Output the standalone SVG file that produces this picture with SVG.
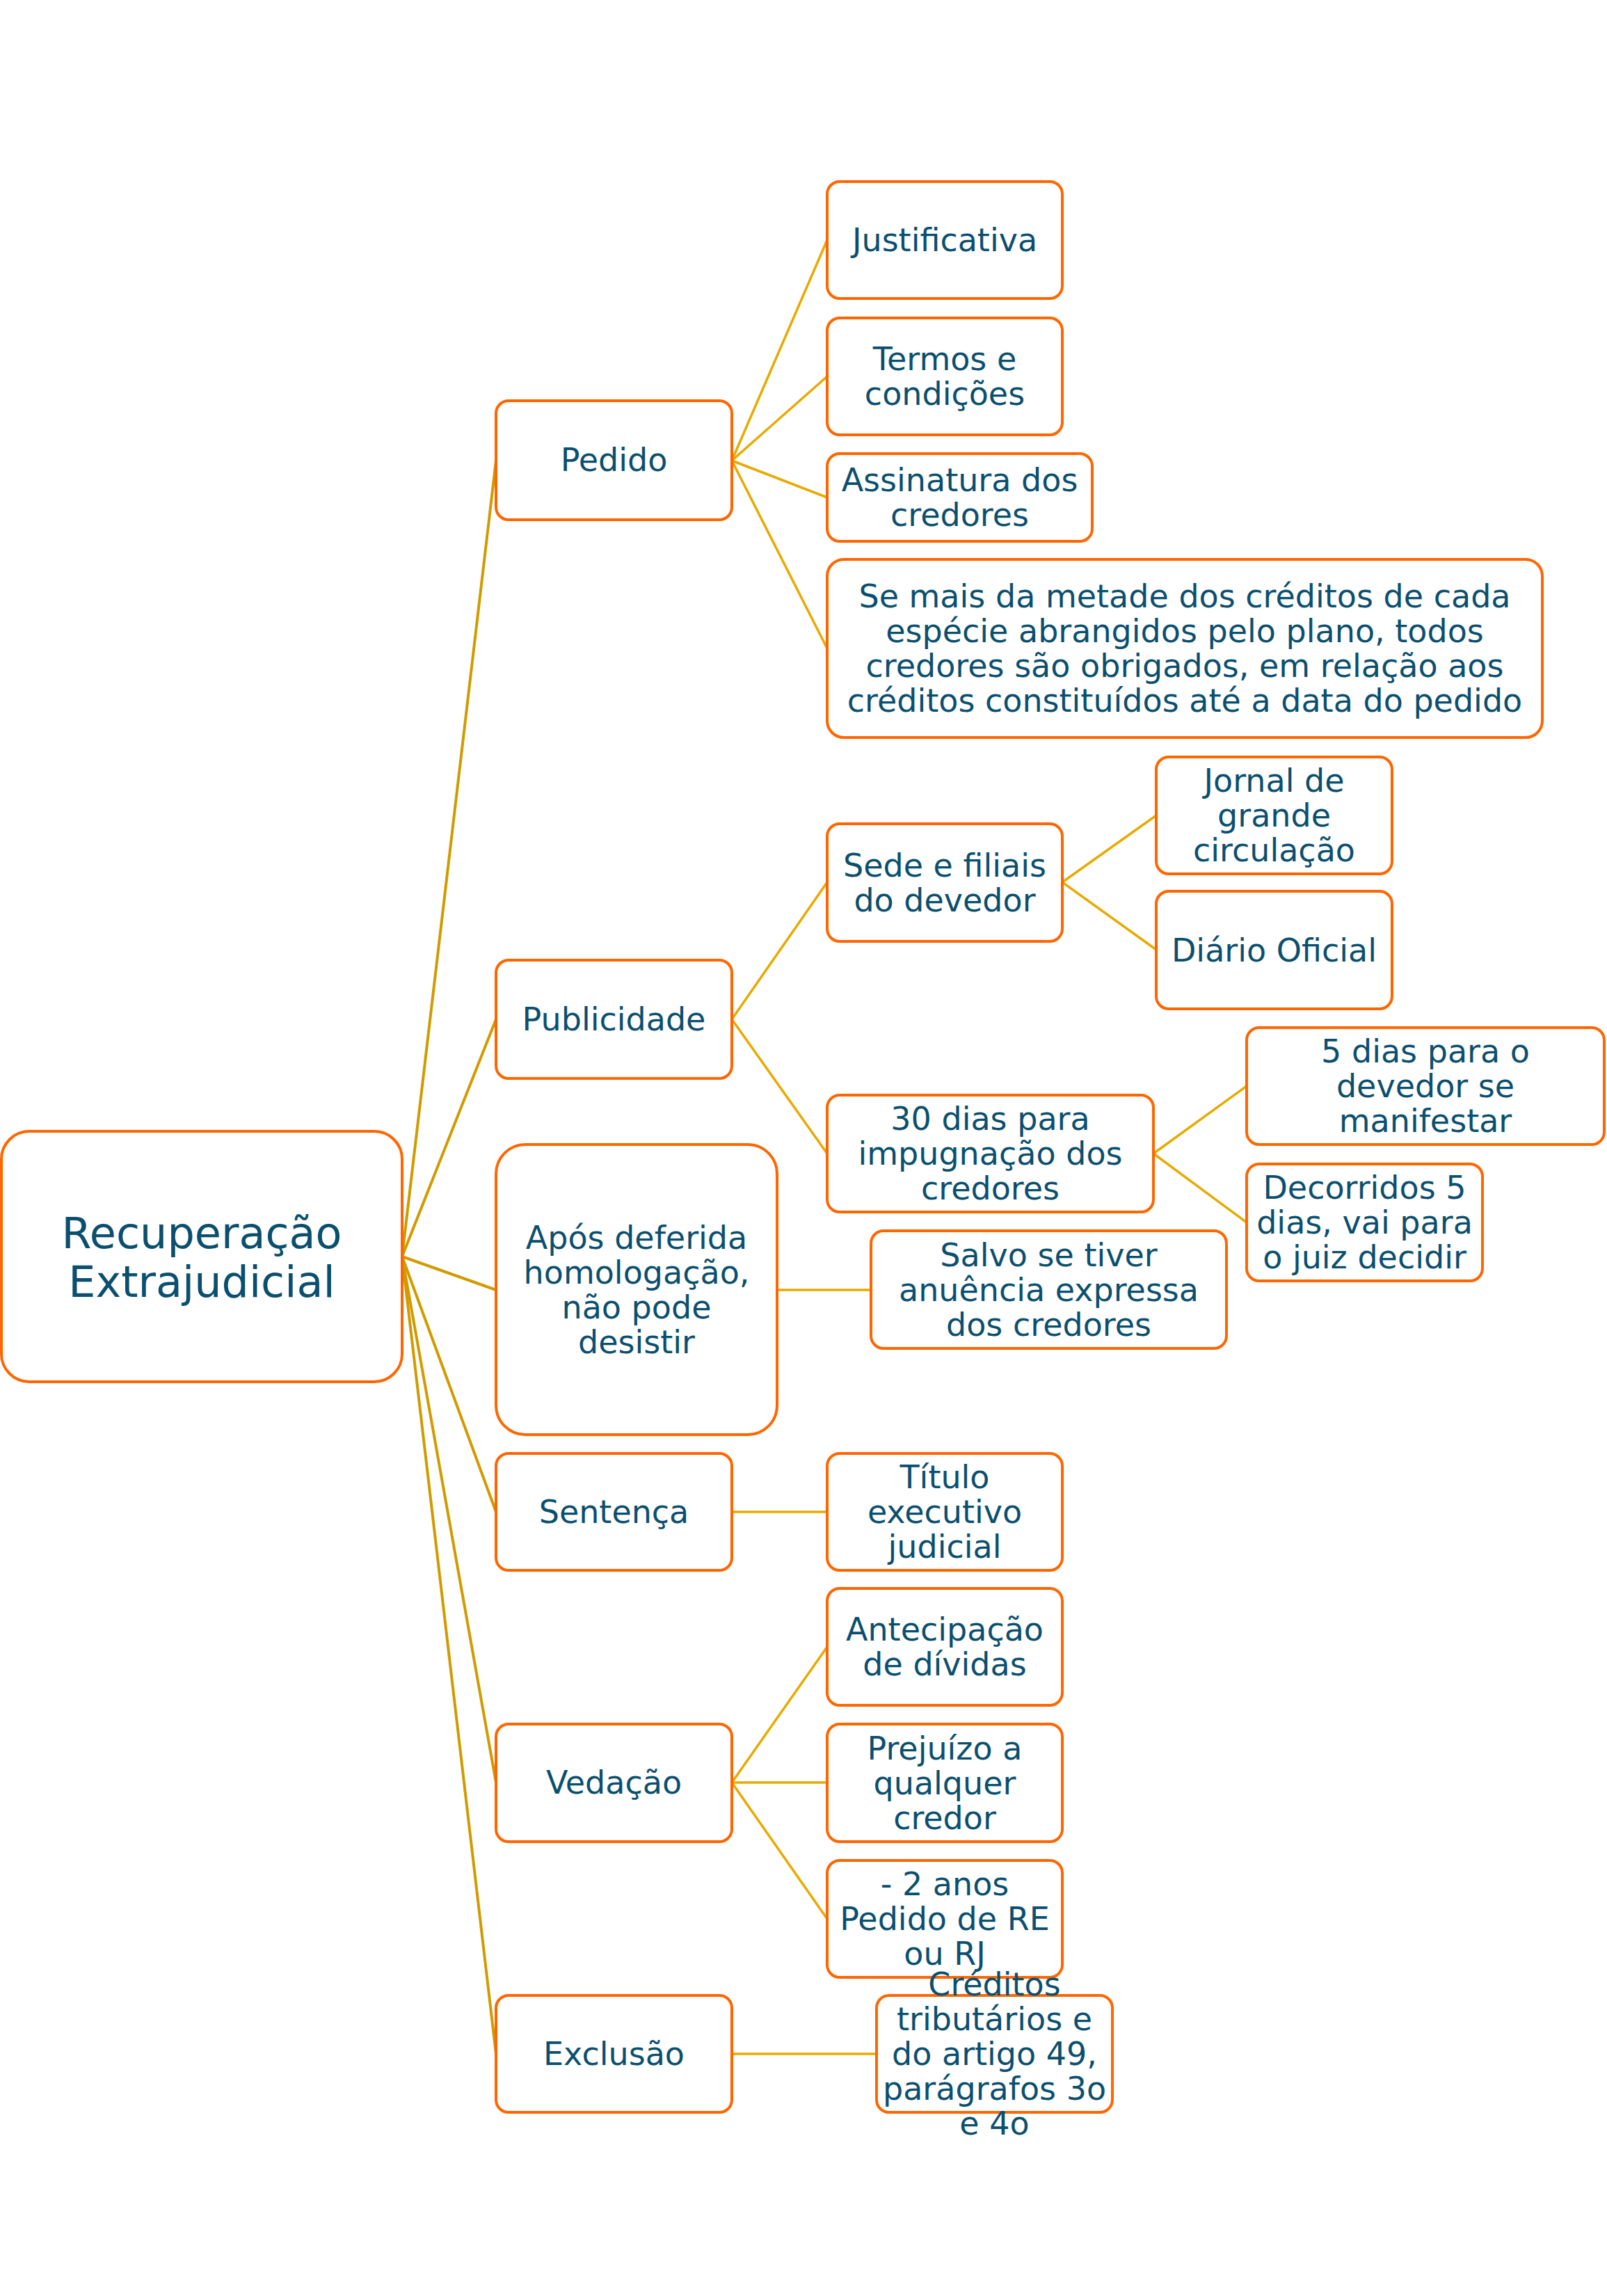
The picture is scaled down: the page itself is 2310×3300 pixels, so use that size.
<svg xmlns="http://www.w3.org/2000/svg" width="2310" height="3300" viewBox="0 0 2310 3300">
  <style>
    .box { fill: #ffffff; stroke: #ff6600; stroke-width: 4; }
    .lbl { font-family: "DejaVu Sans", Verdana, sans-serif; font-size: 46px; fill: #0b4f6f; text-anchor: middle; }
    .root-lbl { font-size: 62px; }
    .trunk { stroke: #d19b00; stroke-width: 4; fill: none; }
    .branch { stroke: #e8aa00; stroke-width: 3.5; fill: none; }
  </style>
  <rect width="2310" height="3300" fill="#ffffff"/>

  <!-- connectors -->
  <g id="connectors">
    <line class="trunk" x1="578" y1="1806" x2="713" y2="662"/>
    <line class="trunk" x1="578" y1="1806" x2="713" y2="1465"/>
    <line class="trunk" x1="578" y1="1806" x2="713" y2="1854"/>
    <line class="trunk" x1="578" y1="1806" x2="713" y2="2173"/>
    <line class="trunk" x1="578" y1="1806" x2="713" y2="2562"/>
    <line class="trunk" x1="578" y1="1806" x2="713" y2="2952"/>

    <line class="branch" x1="1052" y1="662" x2="1189" y2="345"/>
    <line class="branch" x1="1052" y1="662" x2="1189" y2="541"/>
    <line class="branch" x1="1052" y1="662" x2="1189" y2="715"/>
    <line class="branch" x1="1052" y1="662" x2="1189" y2="932"/>

    <line class="branch" x1="1052" y1="1465" x2="1189" y2="1268"/>
    <line class="branch" x1="1052" y1="1465" x2="1189" y2="1658"/>
    <line class="branch" x1="1527" y1="1268" x2="1662" y2="1172"/>
    <line class="branch" x1="1527" y1="1268" x2="1662" y2="1365"/>
    <line class="branch" x1="1658" y1="1658" x2="1792" y2="1561"/>
    <line class="branch" x1="1658" y1="1658" x2="1792" y2="1757"/>

    <line class="branch" x1="1117" y1="1854" x2="1252" y2="1854"/>
    <line class="branch" x1="1052" y1="2173" x2="1189" y2="2173"/>

    <line class="branch" x1="1052" y1="2562" x2="1189" y2="2367"/>
    <line class="branch" x1="1052" y1="2562" x2="1189" y2="2562"/>
    <line class="branch" x1="1052" y1="2562" x2="1189" y2="2758"/>

    <line class="branch" x1="1052" y1="2952" x2="1260" y2="2952"/>
  </g>

  <!-- central topic -->
  <g id="root">
    <rect class="box" x="2" y="1626" width="576" height="360" rx="40"/>
    <text class="lbl root-lbl"><tspan x="290" y="1794">Recuperação</tspan><tspan x="290" y="1864">Extrajudicial</tspan></text>
  </g>

  <!-- main branches -->
  <g id="pedido">
    <rect class="box" x="713" y="576" width="339" height="171" rx="18"/>
    <text class="lbl" x="882.5" y="677">Pedido</text>
  </g>
  <g id="publicidade">
    <rect class="box" x="713" y="1380" width="339" height="170" rx="18"/>
    <text class="lbl" x="882.5" y="1481">Publicidade</text>
  </g>
  <g id="apos-deferida">
    <rect class="box" x="713" y="1645" width="404" height="417" rx="42"/>
    <text class="lbl"><tspan x="915" y="1795">Após deferida</tspan><tspan x="915" y="1845">homologação,</tspan><tspan x="915" y="1895">não pode</tspan><tspan x="915" y="1945">desistir</tspan></text>
  </g>
  <g id="sentenca">
    <rect class="box" x="713" y="2089" width="339" height="168" rx="18"/>
    <text class="lbl" x="882.5" y="2189">Sentença</text>
  </g>
  <g id="vedacao">
    <rect class="box" x="713" y="2478" width="339" height="169" rx="18"/>
    <text class="lbl" x="882.5" y="2578">Vedação</text>
  </g>
  <g id="exclusao">
    <rect class="box" x="713" y="2868" width="339" height="168" rx="18"/>
    <text class="lbl" x="882.5" y="2968">Exclusão</text>
  </g>

  <!-- Pedido details -->
  <g id="justificativa">
    <rect class="box" x="1189" y="261" width="338" height="168" rx="18"/>
    <text class="lbl" x="1358" y="361">Justificativa</text>
  </g>
  <g id="termos">
    <rect class="box" x="1189" y="457" width="338" height="168" rx="18"/>
    <text class="lbl"><tspan x="1358" y="532">Termos e</tspan><tspan x="1358" y="582">condições</tspan></text>
  </g>
  <g id="assinatura">
    <rect class="box" x="1189" y="652" width="381" height="126" rx="18"/>
    <text class="lbl"><tspan x="1379.5" y="706">Assinatura dos</tspan><tspan x="1379.5" y="756">credores</tspan></text>
  </g>
  <g id="metade-creditos">
    <rect class="box" x="1189" y="804" width="1028" height="256" rx="24"/>
    <text class="lbl"><tspan x="1703" y="873">Se mais da metade dos créditos de cada</tspan><tspan x="1703" y="923">espécie abrangidos pelo plano, todos</tspan><tspan x="1703" y="973">credores são obrigados, em relação aos</tspan><tspan x="1703" y="1023">créditos constituídos até a data do pedido</tspan></text>
  </g>

  <!-- Publicidade details -->
  <g id="sede-filiais">
    <rect class="box" x="1189" y="1184" width="338" height="169" rx="18"/>
    <text class="lbl"><tspan x="1358" y="1259.5">Sede e filiais</tspan><tspan x="1358" y="1309.5">do devedor</tspan></text>
  </g>
  <g id="jornal">
    <rect class="box" x="1662" y="1088" width="339" height="168" rx="18"/>
    <text class="lbl"><tspan x="1831.5" y="1138">Jornal de</tspan><tspan x="1831.5" y="1188">grande</tspan><tspan x="1831.5" y="1238">circulação</tspan></text>
  </g>
  <g id="diario-oficial">
    <rect class="box" x="1662" y="1281" width="339" height="169" rx="18"/>
    <text class="lbl" x="1831.5" y="1381.5">Diário Oficial</text>
  </g>
  <g id="trinta-dias">
    <rect class="box" x="1189" y="1574" width="469" height="168" rx="18"/>
    <text class="lbl"><tspan x="1423.5" y="1624">30 dias para</tspan><tspan x="1423.5" y="1674">impugnação dos</tspan><tspan x="1423.5" y="1724">credores</tspan></text>
  </g>
  <g id="cinco-dias">
    <rect class="box" x="1792" y="1477" width="514" height="168" rx="18"/>
    <text class="lbl"><tspan x="2049" y="1527">5 dias para o</tspan><tspan x="2049" y="1577">devedor se</tspan><tspan x="2049" y="1627">manifestar</tspan></text>
  </g>
  <g id="decorridos">
    <rect class="box" x="1792" y="1673" width="339" height="168" rx="18"/>
    <text class="lbl"><tspan x="1961.5" y="1723">Decorridos 5</tspan><tspan x="1961.5" y="1773">dias, vai para</tspan><tspan x="1961.5" y="1823">o juiz decidir</tspan></text>
  </g>

  <!-- other details -->
  <g id="salvo-anuencia">
    <rect class="box" x="1252" y="1769" width="511" height="169" rx="18"/>
    <text class="lbl"><tspan x="1507.5" y="1819.5">Salvo se tiver</tspan><tspan x="1507.5" y="1869.5">anuência expressa</tspan><tspan x="1507.5" y="1919.5">dos credores</tspan></text>
  </g>
  <g id="titulo-executivo">
    <rect class="box" x="1189" y="2089" width="338" height="168" rx="18"/>
    <text class="lbl"><tspan x="1358" y="2139">Título</tspan><tspan x="1358" y="2189">executivo</tspan><tspan x="1358" y="2239">judicial</tspan></text>
  </g>
  <g id="antecipacao">
    <rect class="box" x="1189" y="2283" width="338" height="168" rx="18"/>
    <text class="lbl"><tspan x="1358" y="2358">Antecipação</tspan><tspan x="1358" y="2408">de dívidas</tspan></text>
  </g>
  <g id="prejuizo">
    <rect class="box" x="1189" y="2478" width="338" height="169" rx="18"/>
    <text class="lbl"><tspan x="1358" y="2528.5">Prejuízo a</tspan><tspan x="1358" y="2578.5">qualquer</tspan><tspan x="1358" y="2628.5">credor</tspan></text>
  </g>
  <g id="dois-anos">
    <rect class="box" x="1189" y="2674" width="338" height="168" rx="18"/>
    <text class="lbl"><tspan x="1358" y="2724">- 2 anos</tspan><tspan x="1358" y="2774">Pedido de RE</tspan><tspan x="1358" y="2824">ou RJ</tspan></text>
  </g>
  <g id="creditos-tributarios">
    <rect class="box" x="1260" y="2868" width="339" height="168" rx="18"/>
    <text class="lbl"><tspan x="1429.5" y="2868">Créditos</tspan><tspan x="1429.5" y="2918">tributários e</tspan><tspan x="1429.5" y="2968">do artigo 49,</tspan><tspan x="1429.5" y="3018">parágrafos 3o</tspan><tspan x="1429.5" y="3068">e 4o</tspan></text>
  </g>
</svg>
